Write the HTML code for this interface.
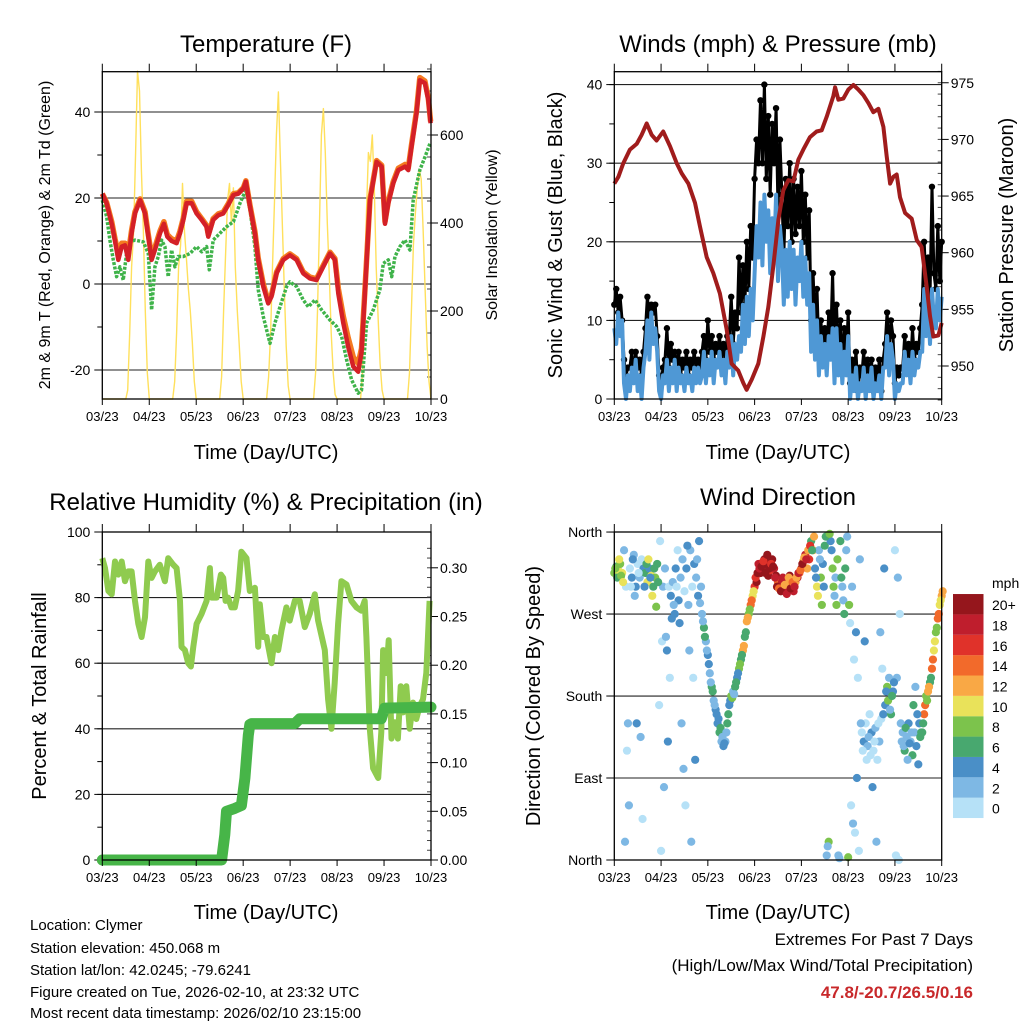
<!DOCTYPE html>
<html><head><meta charset="utf-8"><style>
html,body{margin:0;padding:0;background:#fff;}
svg{display:block;font-family:"Liberation Sans",Arial,sans-serif;}
</style></head><body>
<svg id="chart" width="1024" height="1024" viewBox="0 0 1024 1024" xmlns="http://www.w3.org/2000/svg">
<rect width="1024" height="1024" fill="#fff"/>
<g id="layer"></g>
<text x="266" y="52" font-size="24" text-anchor="middle">Temperature (F)</text>
<text x="778" y="52" font-size="24" text-anchor="middle">Winds (mph) &amp; Pressure (mb)</text>
<text x="266" y="510" font-size="24" text-anchor="middle">Relative Humidity (%) &amp; Precipitation (in)</text>
<text x="778" y="505" font-size="24" text-anchor="middle">Wind Direction</text>
<text x="266" y="459" font-size="20" text-anchor="middle">Time (Day/UTC)</text>
<text x="778" y="459" font-size="20" text-anchor="middle">Time (Day/UTC)</text>
<text x="266" y="919" font-size="20" text-anchor="middle">Time (Day/UTC)</text>
<text x="778" y="919" font-size="20" text-anchor="middle">Time (Day/UTC)</text>
<text transform="translate(50,235) rotate(-90)" font-size="16" text-anchor="middle">2m &amp; 9m T (Red, Orange) &amp; 2m Td (Green)</text>
<text transform="translate(497,235) rotate(-90)" font-size="16" text-anchor="middle">Solar Insolation (Yellow)</text>
<text transform="translate(562,235) rotate(-90)" font-size="20" text-anchor="middle">Sonic Wind &amp; Gust (Blue, Black)</text>
<text transform="translate(1013,235) rotate(-90)" font-size="20" text-anchor="middle">Station Pressure (Maroon)</text>
<text transform="translate(46,696) rotate(-90)" font-size="20" text-anchor="middle">Percent &amp; Total Rainfall</text>
<text transform="translate(540,696) rotate(-90)" font-size="20" text-anchor="middle">Direction (Colored By Speed)</text>
<g font-size="15">
<text x="30" y="930">Location: Clymer</text>
<text x="30" y="953">Station elevation: 450.068 m</text>
<text x="30" y="975">Station lat/lon: 42.0245; -79.6241</text>
<text x="30" y="997">Figure created on Tue, 2026-02-10, at 23:32 UTC</text>
<text x="30" y="1018">Most recent data timestamp: 2026/02/10 23:15:00</text>
</g>
<g text-anchor="end">
<text x="973" y="945" font-size="17">Extremes For Past 7 Days</text>
<text x="973" y="971" font-size="17">(High/Low/Max Wind/Total Precipitation)</text>
<text x="973" y="998" font-size="17" font-weight="bold" fill="#c8282a">47.8/-20.7/26.5/0.16</text>
</g>
</svg>
<script>
// ---------- data ----------
const dayLabels = ["03/23","04/23","05/23","06/23","07/23","08/23","09/23","10/23"];
const tempHours = [0,2.2,4.8,6.5,8.2,9.9,11.6,13.3,15,16.7,19.3,21.8,23.5,25.2,26.9,29.5,31.5,33.2,35.4,38,39.7,41.4,43.1,45.7,48.2,50.8,53.3,54.2,56.7,59.3,61.8,64.4,67,69.5,72.1,73.4,75.5,78,79.7,82.3,84.8,86.5,89.1,92.5,95.9,99.3,102.7,106.1,109.5,112.9,116.4,118.9,120.6,123.2,125.7,128.3,130.8,132.5,134.2,136.8,140.2,142.8,144.5,146.2,148.7,151.3,154.7,156.4,158.1,160.6,162.3,164.9,166.6,167.8];
const tempRed = [21,18.8,14,10,5.6,8.7,9,5.6,11.8,16.4,19.5,16.4,11,5.6,7.9,11.8,14,11,10,9.5,11.8,14.9,18.8,18.8,16.4,14.9,13.3,11,14.9,16,16.4,18.4,20.7,21,22.2,23.8,18,11.8,5.6,-0.6,-4.5,-2.9,2.5,5.6,6.7,5.6,2.5,1.3,0.9,4,7.1,5.6,-2.2,-9.1,-14.6,-19.2,-20.4,-16,-2.2,19.5,28.4,27.3,14,18.8,23.4,26.5,27.3,26.5,32,39.7,47.4,46.7,42.8,37.4];
const tempOrange = [21,19,14.5,10.5,7,9.5,9.5,7,12.5,16.8,19.8,16.8,11.5,6.5,8.5,12.3,14.5,11.5,10.5,10,12.3,15.3,19.2,19.2,16.8,15.2,13.6,11.5,15.2,16.3,16.7,18.7,21,21.2,22.4,24,18.3,12.2,6,0,-4,-2.5,2.8,5.9,7,5.9,2.8,1.6,1.2,4.3,7.4,5.9,-1,-7.5,-12.5,-17,-18.5,-15,-1.5,19.8,28.7,27.6,14.5,19.2,23.8,26.9,27.8,27,32.5,40.2,48,47.2,43.2,37.8];
const dewHours = [0,2.2,3.9,5.6,7.3,9,10.7,12.4,14.1,16.7,21,23.5,25.2,26.9,28.6,30.3,32,33.7,35.4,37.1,38.8,41.4,44.8,48.2,50.8,53.3,54.7,56.7,60.1,63.5,67,70.4,73.4,75.5,78,79.7,82.3,85.7,88.2,90.8,94.2,95.9,99.3,102.7,105.3,108.7,112.1,116.4,119.8,122.3,124.9,127.4,130.8,132.5,135.1,138.5,141.9,143.6,146.2,147.9,149.6,152.1,154.7,157.2,158.9,162.3,165,167.5];
const dewGreen = [19.5,15.7,10.2,5.6,1.7,4,0.9,7.1,9.8,10.2,9.8,7.1,-6,4,6.4,10.2,8.7,1.7,7.9,4,6.4,6.4,7.1,8.7,7.5,8.7,3.3,10.2,11.8,13.3,14.5,18.8,21.9,17.2,8.7,-1.3,-7.6,-13.8,-9.1,-5.3,-0.6,0.5,-0.6,-3.7,-5.3,-3.7,-6,-8.4,-9.9,-12.2,-17.7,-22.3,-25.4,-24.7,-9.1,-6,-1.3,4.8,5.6,1.7,6.4,8.7,10.2,7.9,19.5,26.5,29.6,32.7];
const solarHours = [0,12,13,14,15,16,17,18,19,20,21,22,23,24,36,37,38,39,40,41,42,43,44,45,46,47,48,60,61,62,63,64,65,66,67,68,69,70,71,72,84,85,86,87,88,89,90,91,92,93,94,95,96,108,109,110,111,112,113,114,115,116,117,118,119,120,132,133,134,135,136,137,138,139,140,141,142,143,144,156,157,158,159,160,161,162,163,164,165,166,167,168];
const solarValues = [0,0,20,150,300,380,560,745,700,520,380,200,60,0,0,40,150,300,350,490,380,320,250,200,130,40,0,0,50,200,330,450,490,400,480,300,200,120,40,0,0,50,150,300,450,600,698,550,400,250,120,30,0,0,60,200,400,600,660,560,400,280,150,60,10,0,0,60,250,420,560,540,600,480,300,180,80,20,0,0,60,200,350,420,480,520,500,380,250,120,40,0];
const windSpeed = [9,7,11,8,10, 2,0,3, 1,4,2,5,1,3,0,4, 6,10,5,11,7,9,6, 1,0,3, 2,5,1,4,2,5, 1,4,2,3,1,4,2,3,1,4,2,4,2, 3,6,2,5,3,6,2,5,4,6,3,5,2,6, 4,8,3,7,5,8, 6,12,7,13,8,14,10, 16,22,18,25, 17,26,20,24,16,23,18,26,15,22,19, 12,19, 13,20,14,19,12,18,15,20,13,18,12,16, 6,12,5,10, 3,8,4,7,3,8,5,9, 2,9,3,7,2,6,3,8, 0,3,1,4,0,2,1,4,0,3,1,4,0,2,1,3,0,4, 4,8,3,7,5, 0,2,1,2, 2,6,3,5,2,6,3,5,4,6, 6,14,8,12,7,14,10, 9,14,10,13];
const windGust = [12,14,11,13,10, 5,3,4, 4,6,3,6,4,5,3,6, 9,13,10,12,11,12,8, 3,2,4, 5,9,4,7,5,6, 4,6,3,5,4,6,3,5,4,6,4,5,4, 6,8,5,10,6,8,5,7,6,8,5,7,5,8, 8,13,7,11,9,18, 11,17,12,20,14,22,18, 28,33,30,38, 30,40,28,36,26,35,30,37,24,33,26, 18,28, 22,30,20,28,21,27,22,29,20,26,18,24, 10,16,9,14, 6,10,6,9,5,11,7,16, 5,12,5,10,4,9,5,11, 2,5,3,6,1,4,3,6,2,5,3,5,1,4,2,5,1,5, 7,11,6,10,8, 2,4,3,4, 4,8,5,7,4,9,5,7,6,9, 12,20,14,18,13,27,16, 14,22,15,20];
const presHours = [0,2.1,4.6,8,11.5,14,16.6,19.2,21.7,25.1,28.6,32,34.6,38,41.4,44,47.4,50.8,54.2,57.7,60.2,63.6,66.2,67.9,70.5,73.9,76.5,79,81.6,84.2,86.7,89.3,91.9,94.4,97,100.4,103.8,106.4,109,112.4,113.3,115,117.5,120.1,122.7,125.2,127.8,130.4,132.9,135.5,138.1,139.8,141.5,143.2,144.9,146.6,149.2,152.6,155.2,157.7,160.3,162,163.7,166.3,168];
const presValues = [966.1,966.7,967.9,969.1,969.6,970.4,971.4,970.4,969.9,970.7,969.4,967.9,967.0,966.1,964.4,962.3,959.6,958.2,956.4,953.2,950.2,949.6,948.5,947.9,948.8,950.2,952.6,955.2,958.8,962.9,965.5,966.4,966.3,968.2,969.1,970.2,970.7,970.8,972.0,973.8,974.6,973.5,973.6,974.4,974.8,974.4,973.9,973.2,972.4,972.7,971.1,968.5,966.1,966.7,966.9,964.9,963.5,963.0,961.1,960.5,957.0,954.4,952.6,952.7,953.8];
const rhHours = [0,1.4,3.1,4.8,6.5,8.2,9.9,11.6,13.3,15,16.7,18.4,20.1,21.8,23.5,25.2,26.9,29.4,32,33.7,36.3,38,39.7,40.5,42.2,43.9,45.3,46.5,48.2,50.7,53.3,55,55.8,58.4,60.6,61.8,63,64.3,66,67.7,69.4,71.1,73.7,75.4,78,79.7,80.5,82.2,83.9,86.5,88.2,89.9,91.6,94.1,95.8,98.4,100.9,103.5,106,108.6,110.3,113.7,115.4,117.1,118.8,120.5,122.2,124.8,127.3,129.9,132.4,134.1,135,136.7,138.4,141,142.6,143.5,145.2,146.4,147.8,149.4,151.1,152.5,153.7,155.4,157.1,158.8,160.5,162.2,163.9,165.6,167.3];
const rhValues = [92,89,82,81,91,87,91,85,88,88,79,72,68,74,91,86,88,90,85,92,90,89,79,65,64,60,59,65,72,75,79,89,80,80,87,86,79,80,77,77,82,94,92,82,83,65,78,68,68,60,68,64,70,77,73,79,79,71,75,81,73,64,49,40,54,72,85,84,79,77,76,79,68,40,28,25,39,64,57,67,37,42,37,53,45,53,40,48,43,47,49,57,79];
const precipHours = [0,61,62.6,63.5,67.7,71.1,72.9,74.6,75.4,76.3,98.4,100.9,142.6,144.3,168];
const precipValues = [0,0,0.026,0.05,0.053,0.056,0.084,0.128,0.139,0.14,0.14,0.145,0.145,0.156,0.157];
const dirA = [315,322,318,325,315,340,300,150,320,310,335,300,325,310,330,320,315,305,320,312,300,310,325,170,10,300,320,230,300,290,305,270,300,285,310,330,295,320,280,340,300,325,310,290,282,270,255,240,225,205,190,175,165,150,140,130,125,130,150,170,180,185,190,200,210,220,230,245,262,270,280,290,300,305,325,315,318,330,325,312,318,330,320,312,305,300,305,296,300,305,312,300,295,305,310,315,320,328,335,320,330,350,340,320,300,340,310,325,345,5,20,350,320,290,280,5,350,300,270,340,3,260,300,220,250,200,330,140,130,150,125,160,140,120,145,110,130,155,160,170,190,200,160,185,340,200,0,150,140,120,135,150,130,115,140,125,105,135,140,160,180,185,195,210,230,250,265,280,290];
const dirB = [320,310,330,312,305,20,120,60,300,330,290,150,315,135,45,300,325,330,310,290,320,278,305,350,240,80,245,130,200,265,280,320,340,260,150,100,60,345,230,20,200,110,330,350,300,262,245,230,215,195,185,170,160,155,145,135,128,140,160,175,178,182,195,205,215,225,235,250,266,275,285,295,310,315,320,322,328,315,335,320,325,322,310,300,298,295,310,302,292,310,298,305,300,310,315,318,325,332,330,340,345,340,355,310,290,330,280,300,355,15,358,340,300,310,330,2,310,285,320,355,280,60,40,30,90,10,150,120,240,110,135,115,80,130,20,150,250,210,320,185,175,165,180,195,5,310,270,130,125,145,110,128,140,170,190,160,150,140,150,170,175,190,200,220,240,255,270,285,295];
const speedBinLabels = ["0","2","4","6","8","10","12","14","16","18","20+"];
const speedColors = ["#b6e1f7","#7eb8e4","#4a8fc7","#48a86f","#7cc34c","#e9e25a","#f9a845","#f26a2b","#e0322a","#bf1e2d","#95161c"];

// ---------- helpers ----------
const NS = "http://www.w3.org/2000/svg";
const layer = document.getElementById('layer');
function el(tag, attrs, parent){ const e=document.createElementNS(NS,tag); for(const k in attrs) e.setAttribute(k,attrs[k]); (parent||layer).appendChild(e); return e; }
const P1 = {x0:102.3,x1:431,y0:71.7,y1:399};
const P2 = {x0:614.3,x1:941.7,y0:71.7,y1:399};
const P3 = {x0:102.3,x1:431,y0:532,y1:860};
const P4 = {x0:614.3,x1:941.7,y0:532,y1:860};
function xh(p,h){ return p.x0 + h/168*(p.x1-p.x0); }
const yTemp = v => 284 - v*4.3;
const ySolar = v => 399 - v*0.44;
const yWind = v => 399 - v*7.86;
const yPres = v => 366 - (v-950)*11.33;
const yRH = v => 860 - v*3.28;
const yPrecip = v => 860 - v*974;
const yDir = v => 860 - v*0.911;

function frame(p, name){
  const g = el('g',{});
  
  
  return g;
}
function xAxis(p, g){
  dayLabels.forEach((lab,i)=>{
    const x = xh(p, i*24);
    el('line',{x1:x,x2:x,y1:p.y0-8,y2:p.y0,stroke:'#000','stroke-width':1},g);
    el('line',{x1:x,x2:x,y1:p.y1,y2:p.y1+6,stroke:'#000','stroke-width':1},g);
    const t = el('text',{x:x,y:p.y1+22,'font-size':13,'text-anchor':'middle'},g);
    t.textContent = lab;
  });
}
function leftAxis(p,g,vals,yf,labels,minors,grid){
  minors.forEach(v=>{ const y=yf(v); el('line',{x1:p.x0-5,x2:p.x0,y1:y,y2:y,stroke:'#000','stroke-width':1},g); });
  vals.forEach((v,i)=>{ const y=yf(v);
    el('line',{x1:p.x0-8,x2:p.x0,y1:y,y2:y,stroke:'#000','stroke-width':1},g);
    if(grid.includes(v)) el('line',{x1:p.x0,x2:p.x1,y1:y,y2:y,stroke:'#222','stroke-width':1.1},g);
    const t=el('text',{x:p.x0-12,y:y+5,'font-size':14,'text-anchor':'end'},g); t.textContent=labels[i]; });
}
function rightAxis(p,g,vals,yf,labels,minors){
  minors.forEach(v=>{ const y=yf(v); el('line',{x1:p.x1-4,x2:p.x1,y1:y,y2:y,stroke:'#444','stroke-width':1},g); });
  vals.forEach((v,i)=>{ const y=yf(v);
    el('line',{x1:p.x1,x2:p.x1+7,y1:y,y2:y,stroke:'#000','stroke-width':1},g);
    const t=el('text',{x:p.x1+9,y:y+5,'font-size':14,'text-anchor':'start'},g); t.textContent=labels[i]; });
}
function border(p,g){ el('rect',{x:p.x0,y:p.y0,width:p.x1-p.x0,height:p.y1-p.y0,fill:'none',stroke:'#000','stroke-width':1.3},g); }
function pts(p,hours,vals,yf){ return hours.map((h,i)=>xh(p,h).toFixed(1)+','+yf(vals[i]).toFixed(1)).join(' '); }
function range(a,b,s){ const r=[]; for(let v=a; v<=b+1e-9; v+=s) r.push(+v.toFixed(3)); return r; }

// ---------- Panel 1 : temperature ----------
{
  const g = frame(P1,'temperature-panel');
  leftAxis(P1,g,[-20,0,20,40],yTemp,["-20","0","20","40"],range(-20,40,10),[-20,0,20,40]);
  rightAxis(P1,g,[0,200,400,600],ySolar,["0","200","400","600"],range(0,750,50));
  const solar = el('polyline',{points:pts(P1,solarHours,solarValues,ySolar),fill:'none',stroke:'#ffe05c','stroke-width':1.4,'stroke-linejoin':'round'},g);
  
  
  const dew = el('polyline',{points:pts(P1,dewHours,dewGreen,yTemp),fill:'none',stroke:'#3fb34a','stroke-width':3.5,'stroke-dasharray':'3 1.5','stroke-linejoin':'round'},g);
  
  
  const t9 = el('polyline',{points:pts(P1,tempHours,tempOrange,yTemp),fill:'none',stroke:'#f47a20','stroke-width':5.5,'stroke-linejoin':'round'},g);
  
  
  const t2 = el('polyline',{points:pts(P1,tempHours,tempRed,yTemp),fill:'none',stroke:'#d42027','stroke-width':4.5,'stroke-linejoin':'round'},g);
  
  
  border(P1,g); xAxis(P1,g);
}
// ---------- Panel 2 : winds & pressure ----------
{
  const g = frame(P2,'winds-panel');
  leftAxis(P2,g,[0,10,20,30,40],yWind,["0","10","20","30","40"],range(0,40,5),[10,20,30,40]);
  rightAxis(P2,g,[950,955,960,965,970,975],yPres,["950","955","960","965","970","975"],range(947,976,1));
  const hrs = windGust.map((_,i)=>i);
  windGust.forEach((v,i)=>{
    const c = el('circle',{cx:xh(P2,i),cy:yWind(v),r:3.2,fill:'#000'},g);
    
    
  });
  const gl = el('polyline',{points:pts(P2,hrs,windGust,yWind),fill:'none',stroke:'#000','stroke-width':3},g);
  
  
  const wl = el('polyline',{points:pts(P2,hrs,windSpeed,yWind),fill:'none',stroke:'#4f98d5','stroke-width':4,'stroke-linejoin':'round'},g);
  
  
  const pl = el('polyline',{points:pts(P2,presHours,presValues,yPres),fill:'none',stroke:'#a01c1c','stroke-width':4,'stroke-linejoin':'round'},g);
  
  
  border(P2,g); xAxis(P2,g);
}
// ---------- Panel 3 : RH & precip ----------
{
  const g = frame(P3,'humidity-panel');
  leftAxis(P3,g,[0,20,40,60,80,100],yRH,["0","20","40","60","80","100"],range(0,100,10),[20,40,60,80]);
  rightAxis(P3,g,[0,0.05,0.10,0.15,0.20,0.25,0.30],yPrecip,["0.00","0.05","0.10","0.15","0.20","0.25","0.30"],range(0,0.32,0.01));
  const rl = el('polyline',{points:pts(P3,rhHours,rhValues,yRH),fill:'none',stroke:'#8fcb4f','stroke-width':6,'stroke-linejoin':'round'},g);
  
  
  const pr = el('polyline',{points:pts(P3,precipHours,precipValues,yPrecip),fill:'none',stroke:'#47b548','stroke-width':11,'stroke-linejoin':'round','stroke-linecap':'round'},g);
  
  
  border(P3,g); xAxis(P3,g);
}
// ---------- Panel 4 : direction ----------
{
  const g = frame(P4,'direction-panel');
  leftAxis(P4,g,[0,90,180,270,360],yDir,["North","East","South","West","North"],[0,90,180,270,360],[90,180,270]);
  const bin = s => Math.min(10, Math.max(0, Math.floor(s/2)));
  [dirA, dirB].forEach((arr,k)=>{
    arr.forEach((d,i)=>{
      const c = el('circle',{cx:xh(P4,i+k*0.5),cy:yDir(d),r:4.1,fill:speedColors[bin(windSpeed[i])]},g);
      
      
    });
  });
  border(P4,g); xAxis(P4,g);
  // colorbar
  const cb = el('g',{},layer);
  
  
  const mph = el('text',{x:992,y:588,'font-size':14},cb); mph.textContent='mph';
  speedColors.forEach((c,i)=>{
    const y = 818 - (i+1)*20.36;
    const r = el('rect',{x:953,y:y,width:30.5,height:20.4,fill:c},cb);
    
    
    const t = el('text',{x:992,y:y+16,'font-size':14},cb); t.textContent=speedBinLabels[i];
  });
}
</script>
</body></html>
